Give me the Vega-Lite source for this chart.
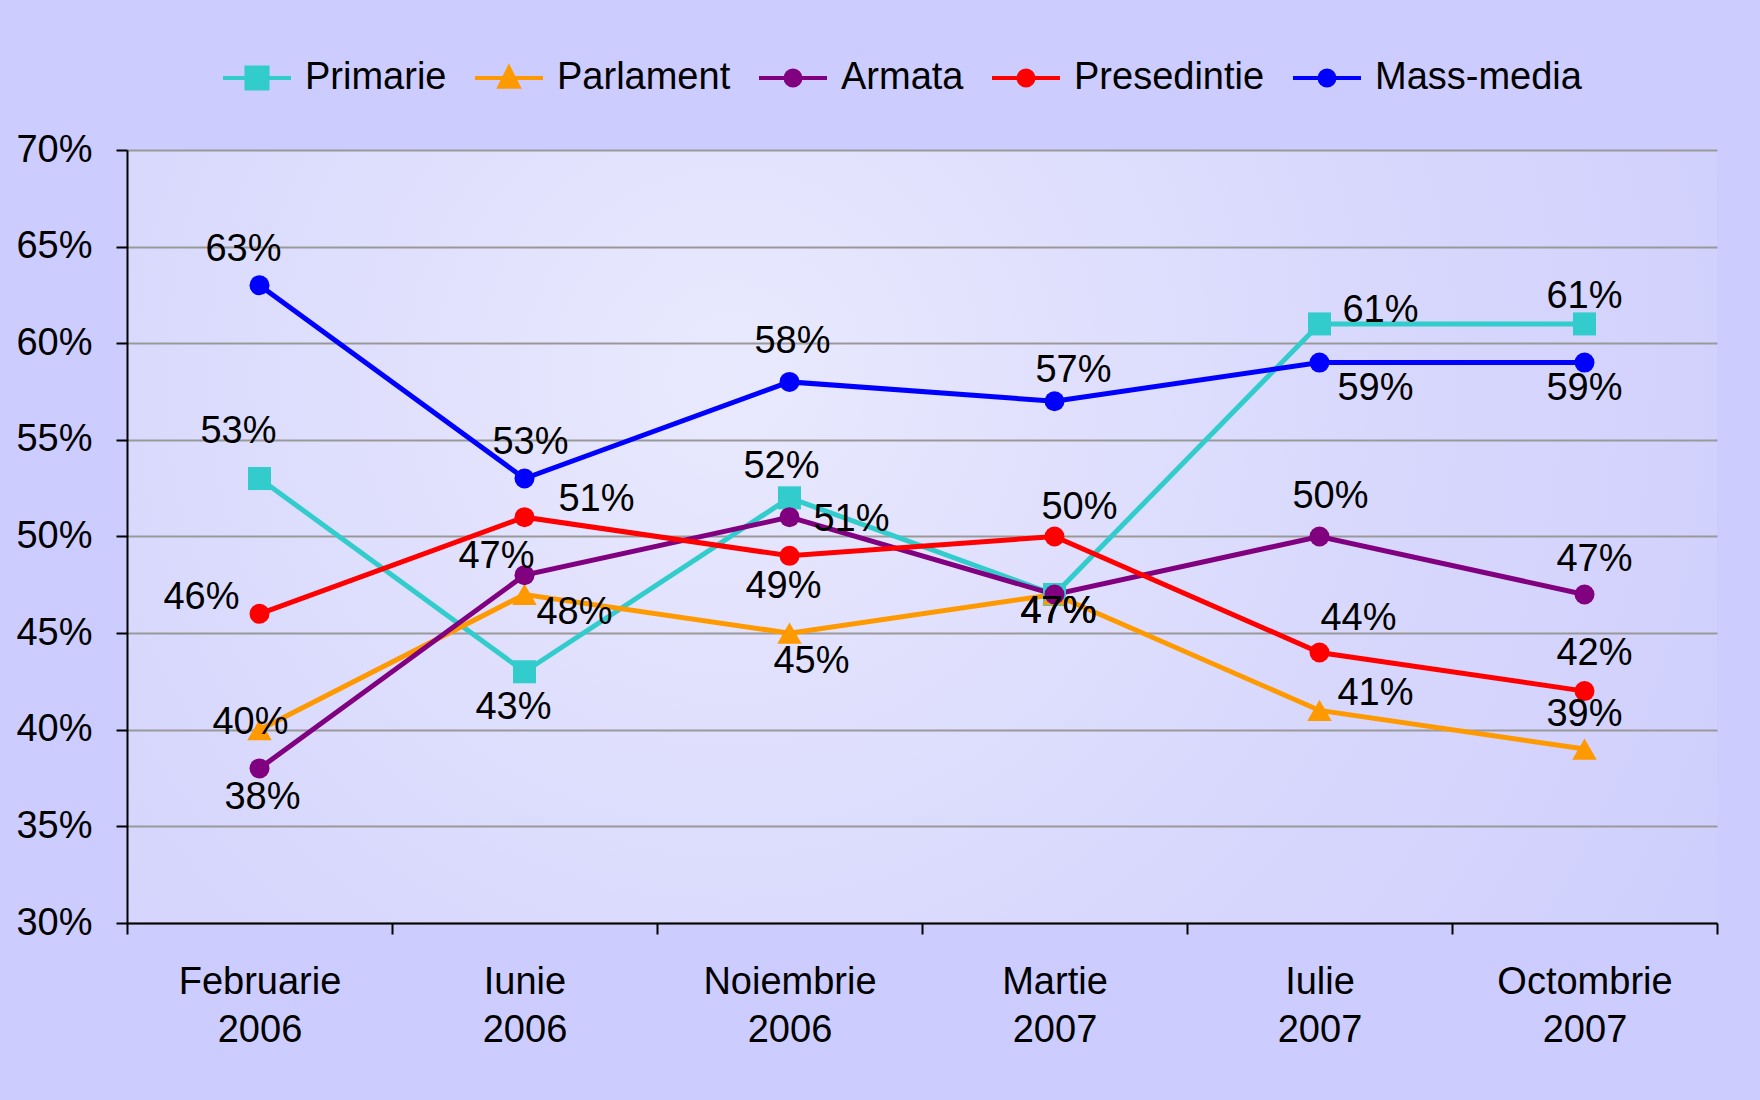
{
  "$schema": "https://vega.github.io/schema/vega-lite/v6.json",
  "autosize": {"type": "none"},
  "padding": {"left": 127, "top": 150, "right": 43, "bottom": 177},
  "width": 1590,
  "height": 773,
  "background": "#CCCCFF",
  "config": {
    "font": "Liberation Sans",
    "view": {
      "stroke": null,
      "fill": {"gradient": "radial", "x1": 0.38, "y1": 0.4, "x2": 0.38, "y2": 0.4, "r1": 0, "r2": 0.75,
        "stops": [{"offset": 0, "color": "#E9E9FE"}, {"offset": 0.55, "color": "#D8D8FD"}, {"offset": 1, "color": "#CDCDFD"}]}
    }
  },
  "data": {
    "values": [
      {"date": "Februarie 2006", "series": "Primarie", "value": 0.53},
      {"date": "Iunie 2006", "series": "Primarie", "value": 0.43},
      {"date": "Noiembrie 2006", "series": "Primarie", "value": 0.52},
      {"date": "Martie 2007", "series": "Primarie", "value": 0.47},
      {"date": "Iulie 2007", "series": "Primarie", "value": 0.61},
      {"date": "Octombrie 2007", "series": "Primarie", "value": 0.61},
      {"date": "Februarie 2006", "series": "Parlament", "value": 0.40},
      {"date": "Iunie 2006", "series": "Parlament", "value": 0.47},
      {"date": "Noiembrie 2006", "series": "Parlament", "value": 0.45},
      {"date": "Martie 2007", "series": "Parlament", "value": 0.47},
      {"date": "Iulie 2007", "series": "Parlament", "value": 0.41},
      {"date": "Octombrie 2007", "series": "Parlament", "value": 0.39},
      {"date": "Februarie 2006", "series": "Armata", "value": 0.38},
      {"date": "Iunie 2006", "series": "Armata", "value": 0.48},
      {"date": "Noiembrie 2006", "series": "Armata", "value": 0.51},
      {"date": "Martie 2007", "series": "Armata", "value": 0.47},
      {"date": "Iulie 2007", "series": "Armata", "value": 0.50},
      {"date": "Octombrie 2007", "series": "Armata", "value": 0.47},
      {"date": "Februarie 2006", "series": "Presedintie", "value": 0.46},
      {"date": "Iunie 2006", "series": "Presedintie", "value": 0.51},
      {"date": "Noiembrie 2006", "series": "Presedintie", "value": 0.49},
      {"date": "Martie 2007", "series": "Presedintie", "value": 0.50},
      {"date": "Iulie 2007", "series": "Presedintie", "value": 0.44},
      {"date": "Octombrie 2007", "series": "Presedintie", "value": 0.42},
      {"date": "Februarie 2006", "series": "Mass-media", "value": 0.63},
      {"date": "Iunie 2006", "series": "Mass-media", "value": 0.53},
      {"date": "Noiembrie 2006", "series": "Mass-media", "value": 0.58},
      {"date": "Martie 2007", "series": "Mass-media", "value": 0.57},
      {"date": "Iulie 2007", "series": "Mass-media", "value": 0.59},
      {"date": "Octombrie 2007", "series": "Mass-media", "value": 0.59}
    ]
  },
  "encoding": {
    "x": {
      "field": "date", "type": "nominal", "sort": null,
      "scale": {"type": "band", "paddingInner": 0, "paddingOuter": 0},
      "axis": {
        "title": null, "labelAngle": 0, "tickBand": "extent",
        "labelExpr": "split(datum.label, ' ')", "labelLineHeight": 48,
        "labelFontSize": 38, "labelColor": "black", "labelPadding": 29,
        "labelBaseline": "top",
        "domainColor": "black", "domainWidth": 2, "tickColor": "black", "tickWidth": 2, "tickSize": 11,
        "grid": false
      }
    },
    "y": {
      "field": "value", "type": "quantitative",
      "scale": {"domain": [0.3, 0.7], "nice": false, "zero": false},
      "axis": {
        "title": null, "format": ".0%", "values": [0.3, 0.35, 0.4, 0.45, 0.5, 0.55, 0.6, 0.65, 0.7],
        "labelFontSize": 38, "labelColor": "black", "labelPadding": 24,
        "domainColor": "black", "domainWidth": 2, "tickColor": "black", "tickWidth": 2, "tickSize": 11,
        "grid": true, "gridColor": "#999999", "gridWidth": 2
      }
    },
    "color": {
      "field": "series", "type": "nominal",
      "scale": {"domain": ["Primarie", "Parlament", "Armata", "Presedintie", "Mass-media"],
                "range": ["#33CCCC", "#FF9900", "#800080", "#FF0000", "#0000FF"]},
      "legend": {
        "orient": "none", "legendX": 94, "legendY": -108, "direction": "horizontal", "title": null,
        "symbolSize": 4624, "symbolStrokeWidth": 4, "labelFontSize": 38, "labelColor": "black",
        "labelOffset": 12, "columnPadding": 20, "labelLimit": 500,
        "encode": {
          "symbols": {
            "update": {
              "shape": {"signal": "datum.value === 'Primarie' ? 'M-1,0H1M-0.31,-0.31H0.31V0.31H-0.31Z' : datum.value === 'Parlament' ? 'M-1,0H1M0,-0.3L0.28,0.26H-0.28Z' : 'M-1,0H1M0.22,0A0.22,0.22,0,1,1,-0.22,0A0.22,0.22,0,1,1,0.22,0Z'"},
              "fill": {"scale": "color", "field": "value"},
              "stroke": {"scale": "color", "field": "value"},
              "strokeWidth": {"value": 4},
              "opacity": {"value": 1}
            }
          }
        }
      }
    }
  },
  "layer": [
    {"mark": {"type": "line", "strokeWidth": 5}},
    {
      "transform": [{"filter": "datum.series === 'Primarie'"}],
      "mark": {"type": "point", "filled": true, "opacity": 1, "shape": "square", "size": 530}
    },
    {
      "transform": [{"filter": "datum.series === 'Parlament'"}],
      "mark": {"type": "point", "filled": true, "opacity": 1, "shape": "triangle-up", "size": 600}
    },
    {
      "transform": [{"filter": "datum.series !== 'Primarie' && datum.series !== 'Parlament'"}],
      "mark": {"type": "point", "filled": true, "opacity": 1, "shape": "circle", "size": 400}
    },
    {
      "mark": {
        "type": "text", "fontSize": 38, "color": "black", "align": "center", "baseline": "middle",
        "dx": {"expr": "({'Primarie':[-21,-11,-8,4,61,0],'Parlament':[-9,-28,22,4,56,0],'Armata':[3,50,62,4,11,10],'Presedintie':[-58,72,-6,25,39,10],'Mass-media':[-16,6,3,19,56,0]})[datum.series][indexof(['Februarie 2006','Iunie 2006','Noiembrie 2006','Martie 2007','Iulie 2007','Octombrie 2007'], datum.date)]"},
        "dy": {"expr": "({'Primarie':[-47,36,-31,18,-13,-27],'Parlament':[-7,-37,29,18,-16,-34],'Armata':[30,38,3,18,-40,-34],'Presedintie':[-16,-17,31,-29,-33,-37],'Mass-media':[-35,-36,-40,-30,26,26]})[datum.series][indexof(['Februarie 2006','Iunie 2006','Noiembrie 2006','Martie 2007','Iulie 2007','Octombrie 2007'], datum.date)]"}
      },
      "encoding": {
        "text": {"field": "value", "type": "quantitative", "format": ".0%"},
        "color": {"value": "black"}
      }
    }
  ]
}
